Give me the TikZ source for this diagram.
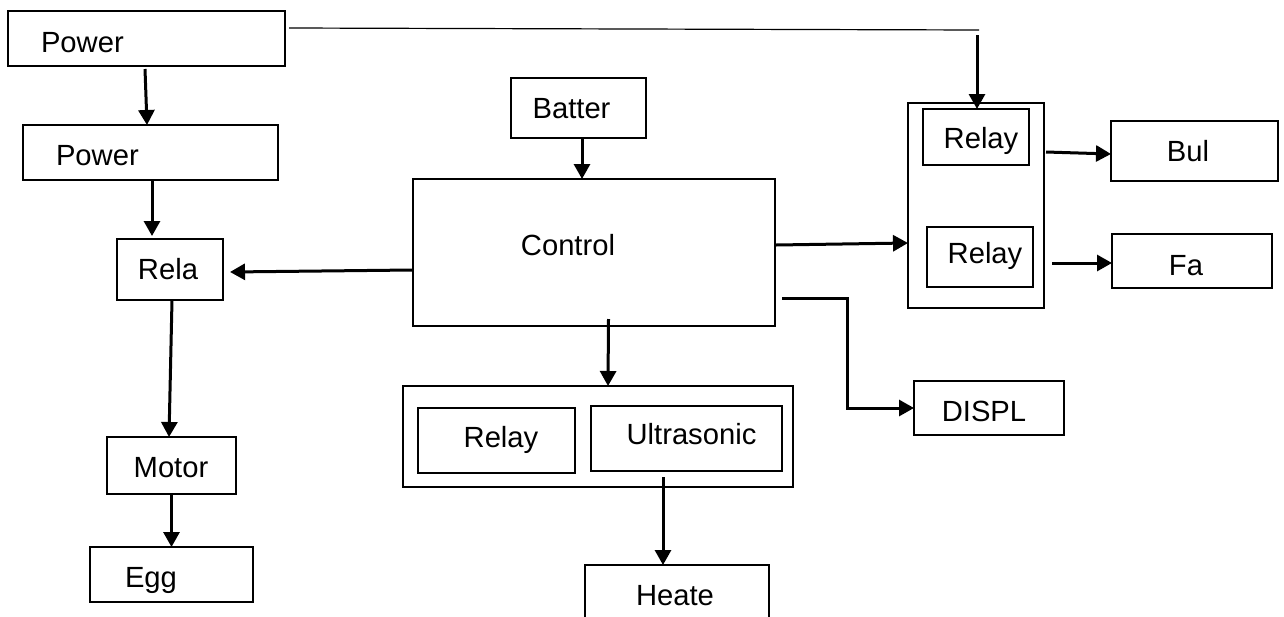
\documentclass[tikz,border=0pt]{standalone}
\usepackage{fontspec}
\setmainfont{Liberation Sans}
\usetikzlibrary{arrows.meta,calc,fit}
\tikzset{
  box/.style={draw, line width=1pt, inner sep=0pt, outer sep=0pt, rectangle},
  txt/.style={inner sep=0pt, outer sep=0pt, font=\fontsize{14.6}{17.5}\selectfont, anchor=base},
  txtw/.style={txt, anchor=base west},
  arr/.style={line width=1.5pt, -{Triangle[length=7.5pt,width=8pt]}},
  thinline/.style={line width=0.6pt}
}
\begin{document}
\begin{tikzpicture}[x=0.5pt,y=-0.5pt]
\useasboundingbox (0,0) rectangle (1284,616);
\clip (0,0) rectangle (1284,616);
% boxes
\node[box, fit={(8,11) (285,66)}] (P1) {};
\node[box, fit={(23,125) (278,180)}] (P2) {};
\node[box, fit={(117,239) (223,300)}] (Rela) {};
\node[box, fit={(107,437) (236,494)}] (Motor) {};
\node[box, fit={(90,547) (253,602)}] (Egg) {};
\node[box, fit={(511,78) (646,138)}] (Batter) {};
\node[box, fit={(413,179) (775,326)}] (Control) {};
\node[box, fit={(908,103) (1044,308)}] (RG) {};
\node[box, fit={(923,109) (1029,165)}] (R1) {};
\node[box, fit={(927,227) (1033,287)}] (R2) {};
\node[box, fit={(1111,121) (1278,181)}] (Bul) {};
\node[box, fit={(1112,234) (1272,288)}] (Fa) {};
\node[box, fit={(914,381) (1064,435)}] (DISPL) {};
\node[box, fit={(403,386) (793,487)}] (BG) {};
\node[box, fit={(418,408) (575,473)}] (R3) {};
\node[box, fit={(591,406) (782,471)}] (US) {};
\node[box, fit={(585,565) (769,630)}] (Heate) {};
% texts
\node[txtw] (tP1) at (41,52) {Power};
\node[txtw] (tP2) at (56,165) {Power};
\node[txt] (tRela) at (168,279) {Rela};
\node[txt] (tMotor) at (171,477) {Motor};
\node[txtw] (tEgg) at (125,587) {Egg};
\node[txt] (tBatter) at (571.5,118) {Batter};
\node[txt] (tControl) at (568,255) {Control};
\node[txt] (tR1) at (981,148) {Relay};
\node[txt] (tR2) at (985,263) {Relay};
\node[txt] (tBul) at (1188,161) {Bul};
\node[txt] (tFa) at (1186,275) {Fa};
\node[txt] (tDISPL) at (984,421) {DISPL};
\node[txt] (tR3) at (501,447) {Relay};
\node[txt] (tUS) at (691.5,444) {Ultrasonic};
\node[txt] (tHeate) at (675,605) {Heate};
% connectors
\draw[arr] ($(P1.south)+(-1.5,3)$) -- ($(P2.north)+(-3.5,0)$);
\draw[arr] ($(P2.south)+(1.5,0)$) -- ($(Rela.north)+(-18,-3)$);
\draw[arr] ($(Control.west)+(-1,17.5)$) -- ($(Rela.east)+(7,2.5)$);
\draw[arr] ($(Rela.south)+(2,0)$) -- ($(Motor.north)+(-2.5,0)$);
\draw[arr] (Motor.south) -- (Egg.north);
\draw[arr] ($(Batter.south)+(3.5,0)$) -- ($(Control.north)+(-12,0)$);
\draw[arr] ($(Control.south)+(14.5,-7)$) -- ($(BG.north)+(10,0)$);
\draw[arr] ($(US.south)+(-23.5,6)$) -- ($(Heate.north)+(-14,0)$);
\draw[arr] ($(Control.east)+(1,-7.5)$) -- ($(RG.west)+(0,37.5)$);
\draw[arr] ($(RG.east)+(2,-53.5)$) -- ($(Bul.west)+(0,3)$);
\draw[arr] ($(RG.east)+(8,57.5)$) -- ($(Fa.west)+(0,2)$);
\draw[arr] ($(Control.east)+(7,45.5)$) -- ++(65,0) |- (DISPL.west);
\coordinate (corner) at ($(R1.north)+(3,-79)$);
\draw[thinline] ($(P1.east)+(4,-10.5)$) -- (corner);
\draw[arr] ($(R1.north)+(1,-74)$) -- ($(R1.north)+(1,0)$);
\end{tikzpicture}
\end{document}
